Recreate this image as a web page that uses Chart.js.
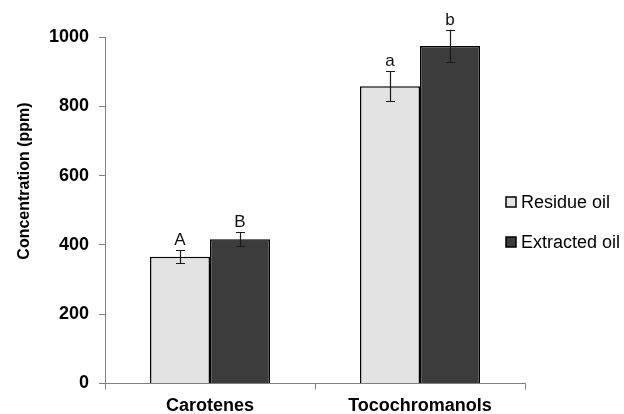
<!DOCTYPE html>
<html><head><meta charset="utf-8">
<script src="https://cdn.jsdelivr.net/npm/chart.js@4.4.0/dist/chart.umd.min.js"></script>
<style>html,body{margin:0;padding:0;background:#fff;}#wrap{width:624px;height:414px;}</style>
</head><body><div id="wrap"><canvas id="c" width="624" height="414"></canvas></div>
<script>
const categories = ['Carotenes', 'Tocochromanols'];
const seriesNames = ['Residue oil', 'Extracted oil'];
const residueOil = [366, 858];
const extractedOil = [416, 974];
const residueErr = [18, 43];
const extractedErr = [20, 47];
const residueLetters = ['A', 'a'];
const extractedLetters = ['B', 'b'];
const yMin = 0, yMax = 1000, yStep = 200;
const yTitle = 'Concentration (ppm)';

const FONT = "'Liberation Sans', Arial, sans-serif";
const colors = ['#e3e3e3', '#3c3c3c'];

const errPlugin = {
  id: 'errLetters',
  afterDatasetsDraw(chart) {
    const ctx = chart.ctx;
    const y = chart.scales.y;
    chart.data.datasets.forEach((ds, di) => {
      const meta = chart.getDatasetMeta(di);
      meta.data.forEach((bar, i) => {
        const v = ds.data[i], e = ds.err[i];
        const x = bar.x;
        const yt = y.getPixelForValue(v + e), yb = y.getPixelForValue(v - e);
        ctx.save();
        ctx.strokeStyle = '#1a1a1a';
        ctx.lineWidth = 1.2;
        ctx.beginPath();
        ctx.moveTo(x + 0.5, yt); ctx.lineTo(x + 0.5, yb);
        ctx.moveTo(x - 4, Math.round(yt) + 0.5); ctx.lineTo(x + 5, Math.round(yt) + 0.5);
        ctx.moveTo(x - 4, Math.round(yb) + 0.5); ctx.lineTo(x + 5, Math.round(yb) + 0.5);
        ctx.stroke();
        ctx.fillStyle = '#111';
        ctx.font = "17px " + FONT;
        ctx.textAlign = 'center';
        ctx.textBaseline = 'alphabetic';
        ctx.fillText(ds.letters[i], x, yt - 5);
        ctx.restore();
      });
    });
  },
  afterDraw(chart) {
    const ctx = chart.ctx;
    ctx.save();
    ctx.translate(25, 181);
    ctx.rotate(-Math.PI / 2);
    ctx.font = "bold 16px " + FONT;
    ctx.fillStyle = '#000';
    ctx.textAlign = 'center';
    ctx.textBaseline = 'middle';
    ctx.fillText(yTitle, 0, 0);
    ctx.restore();
    const ys = [202, 242];
    chart.data.datasets.forEach((ds, i) => {
      ctx.save();
      ctx.fillStyle = ds.backgroundColor;
      ctx.strokeStyle = '#000';
      ctx.lineWidth = 1.5;
      ctx.fillRect(506, ys[i] - 5, 10, 10);
      ctx.strokeRect(506, ys[i] - 5, 10, 10);
      ctx.fillStyle = '#000';
      ctx.font = "18px " + FONT;
      ctx.textAlign = 'left';
      ctx.textBaseline = 'middle';
      ctx.fillText(ds.label, 521, ys[i] + 1);
      ctx.restore();
    });
  }
};

new Chart(document.getElementById('c'), {
  type: 'bar',
  data: {
    labels: categories,
    datasets: [
      { label: seriesNames[0], data: residueOil, err: residueErr, letters: residueLetters,
        backgroundColor: colors[0], borderColor: '#000', borderWidth: 1.5 },
      { label: seriesNames[1], data: extractedOil, err: extractedErr, letters: extractedLetters,
        backgroundColor: colors[1], borderColor: '#000', borderWidth: 1.5 }
    ]
  },
  options: {
    responsive: false,
    animation: false,
    devicePixelRatio: 1,
    categoryPercentage: 120 / 210,
    barPercentage: 1.0,
    layout: { padding: { top: 37, right: 99, left: 0, bottom: 0 } },
    plugins: { legend: { display: false }, tooltip: { enabled: false } },
    scales: {
      x: {
        afterFit(s) { s.height = 30.5; },
        grid: { display: true, offset: true, drawOnChartArea: false, drawTicks: true, tickLength: 6, color: '#808080' },
        border: { display: true, color: '#808080', width: 1 },
        ticks: { color: '#000', font: { family: FONT, size: 18, weight: 'bold' }, padding: 6 }
      },
      y: {
        min: yMin, max: yMax,
        afterFit(s) { s.width = 105; },
        grid: { display: true, drawOnChartArea: false, drawTicks: true, tickLength: 6, color: '#808080' },
        border: { display: true, color: '#808080', width: 1 },
        ticks: { stepSize: yStep, color: '#000', font: { family: FONT, size: 18, weight: 'bold' }, padding: 10,
                 callback: (v) => String(v) }
      }
    }
  },
  plugins: [errPlugin]
});
</script></body></html>
